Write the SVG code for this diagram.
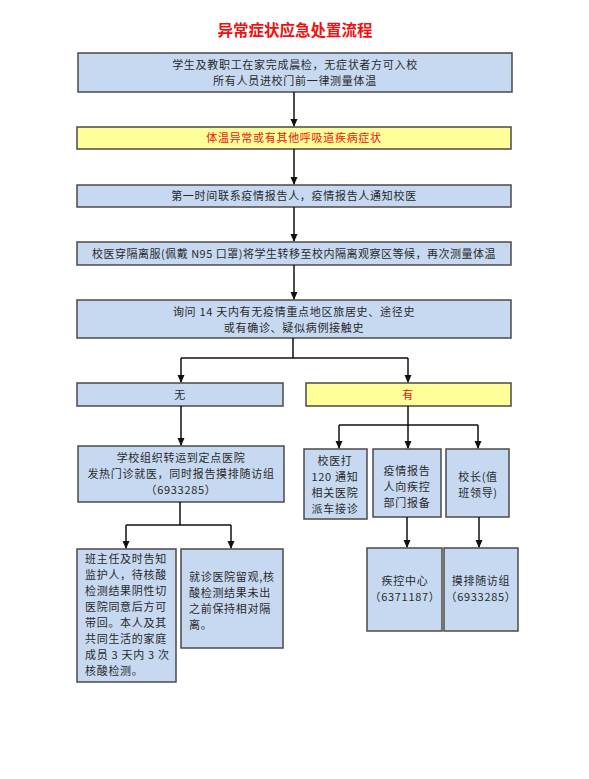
<svg xmlns="http://www.w3.org/2000/svg" width="589" height="779" viewBox="0 0 589 779">
<defs>
<marker id="ah" markerWidth="8" markerHeight="8" refX="7" refY="4" orient="auto" markerUnits="userSpaceOnUse"><path d="M0,0.5 L8,4 L0,7.5 Z" fill="#111"/></marker>
<style>
.b{fill:#c6d9f1;stroke:#4a4a4a;stroke-width:1.5}
.y{fill:#ffff99;stroke:#4a4a4a;stroke-width:1.5}
text{font-family:"Noto Sans CJK SC","Noto Sans",sans-serif;font-size:11px;letter-spacing:0.7px;fill:#2a2a2a}
.c{text-anchor:middle}
.r{fill:#ee1111}
.l{stroke:#111;stroke-width:1.5;fill:none}
.a{stroke:#111;stroke-width:1.5;fill:none;marker-end:url(#ah)}
</style>
</defs>
<rect width="589" height="779" fill="#fff"/>
<text x="295" y="36" class="c r" style="font-size:15.5px;font-weight:bold;letter-spacing:0">异常症状应急处置流程</text>
<g id="n1"><rect class="b" x="78" y="53" width="434" height="39"/><text class="c" x="295" y="69">学生及教职工在家完成晨检，无症状者方可入校</text><text class="c" x="295" y="85">所有人员进校门前一律测量体温</text></g>
<g id="n2"><rect class="y" x="77" y="127" width="434" height="22"/><text class="c r" x="294" y="142">体温异常或有其他呼吸道疾病症状</text></g>
<g id="n3"><rect class="b" x="77" y="185" width="434" height="22"/><text class="c" x="294" y="200">第一时间联系疫情报告人，疫情报告人通知校医</text></g>
<g id="n4"><rect class="b" x="77" y="242" width="434" height="23"/><text class="c" x="294" y="258" style="letter-spacing:0.5px">校医穿隔离服(佩戴 N95 口罩)将学生转移至校内隔离观察区等候，再次测量体温</text></g>
<g id="n5"><rect class="b" x="77" y="300" width="434" height="38"/><text class="c" x="294" y="316">询问 14 天内有无疫情重点地区旅居史、途径史</text><text class="c" x="294" y="332">或有确诊、疑似病例接触史</text></g>
<g id="n6"><rect class="b" x="77" y="383" width="206" height="23"/><text class="c" x="180" y="399">无</text></g>
<g id="n7"><rect class="y" x="306" y="383" width="205" height="23"/><text class="c r" x="408" y="399">有</text></g>
<g id="n8"><rect class="b" x="78" y="446" width="206" height="56"/><text class="c" x="181" y="462">学校组织转运到定点医院</text><text class="c" x="181" y="478">发热门诊就医，同时报告摸排随访组</text><text class="c" x="181" y="494">（6933285）</text></g>
<g id="n9"><rect class="b" x="77" y="549" width="99" height="133"/>
<text x="85" y="563">班主任及时告知</text><text x="85" y="579">监护人，待核酸</text><text x="85" y="595">检测结果阴性切</text><text x="85" y="611">医院同意后方可</text><text x="85" y="627">带回。本人及其</text><text x="85" y="643">共同生活的家庭</text><text x="85" y="659">成员 3 天内 3 次</text><text x="85" y="675">核酸检测。</text></g>
<g id="n10"><rect class="b" x="181" y="549" width="102" height="99"/>
<text x="189" y="581">就诊医院留观,核</text><text x="189" y="597">酸检测结果未出</text><text x="189" y="613">之前保持相对隔</text><text x="189" y="629">离。</text></g>
<g id="n11"><rect class="b" x="304" y="449" width="63" height="70"/><text class="c" x="335" y="465">校医打</text><text class="c" x="335" y="481">120 通知</text><text class="c" x="335" y="497">相关医院</text><text class="c" x="335" y="513">派车接诊</text></g>
<g id="n12"><rect class="b" x="373" y="449" width="68" height="68"/><text class="c" x="407" y="475">疫情报告</text><text class="c" x="407" y="491">人向疾控</text><text class="c" x="407" y="507">部门报备</text></g>
<g id="n13"><rect class="b" x="446" y="449" width="63" height="68"/><text class="c" x="478" y="481">校长(值</text><text class="c" x="478" y="497">班领导)</text></g>
<g id="n14"><rect class="b" x="367" y="548" width="75" height="83"/><text class="c" x="405" y="585">疾控中心</text><text class="c" x="405" y="601">（6371187）</text></g>
<g id="n15"><rect class="b" x="444" y="548" width="74" height="83"/><text class="c" x="481" y="585">摸排随访组</text><text class="c" x="481" y="601">（6933285）</text></g>
<g id="connectors">
<path class="a" d="M294,92 V126"/>
<path class="a" d="M294,149 V184"/>
<path class="a" d="M294,207 V241"/>
<path class="a" d="M294,265 V299"/>
<path class="l" d="M293,338 V358 M181,358 H408"/>
<path class="a" d="M181,358 V382"/>
<path class="a" d="M408,358 V382"/>
<path class="a" d="M181,406 V445"/>
<path class="l" d="M180,502 V525 M126,525 H231"/>
<path class="a" d="M126,525 V548"/>
<path class="a" d="M231,525 V548"/>
<path class="l" d="M408,406 V425 M339,425 H478"/>
<path class="a" d="M339,425 V448"/>
<path class="a" d="M408,425 V448"/>
<path class="a" d="M478,425 V448"/>
<path class="a" d="M407,517 V547"/>
<path class="a" d="M479,517 V547"/>
</g>
</svg>
